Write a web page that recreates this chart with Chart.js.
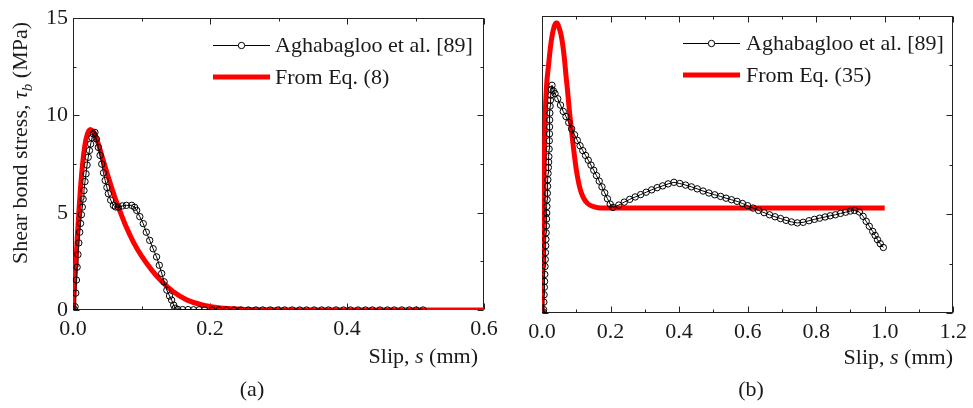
<!DOCTYPE html>
<html><head><meta charset="utf-8">
<script src="https://cdn.jsdelivr.net/npm/chart.js@4.4.0/dist/chart.umd.min.js"></script>
<style>
html,body{margin:0;padding:0;background:#fff;}
#wrap{position:relative;width:973px;height:408px;overflow:hidden;background:#fff;}
#c1{position:absolute;left:0;top:0;}
#c2{position:absolute;left:490px;top:0;}
</style></head><body>
<div id="wrap"><canvas id="c1" width="520" height="408"></canvas><canvas id="c2" width="483" height="408"></canvas></div>
<script>
// ---------- data ----------
const labelExp = 'Aghabagloo et al. [89]';
const labelEqA = 'From Eq. (8)';
const labelEqB = 'From Eq. (35)';
const panelLabels = ['(a)', '(b)'];
const xTitleParts = ['Slip, ', 's', ' (mm)'];
const yTitleParts = ['Shear bond stress, ', 'τ', 'b', ' (MPa)'];

// Panel (a) experimental
const aExpS = [0, 0.0015, 0.003, 0.004, 0.005, 0.006, 0.0072, 0.0085, 0.0098, 0.011, 0.0123, 0.0136, 0.0148, 0.016, 0.0175, 0.019, 0.0205, 0.0222, 0.024, 0.0258, 0.0278, 0.0297, 0.032,
  0.034, 0.037, 0.0395, 0.042, 0.0445, 0.047, 0.0495, 0.0516, 0.055, 0.059, 0.062, 0.066, 0.072, 0.078, 0.0857, 0.09, 0.093, 0.0975, 0.1026, 0.107, 0.112, 0.117, 0.122, 0.126, 0.1295, 0.133, 0.137, 0.141, 0.144, 0.147, 0.149,
  0.153, 0.16, 0.168, 0.176, 0.184,
  0.192, 0.203, 0.213, 0.224, 0.235, 0.245, 0.256, 0.267, 0.277, 0.288, 0.299, 0.309, 0.32, 0.331, 0.341, 0.352, 0.363, 0.373, 0.384, 0.395, 0.405, 0.416, 0.427, 0.437, 0.448, 0.459, 0.469, 0.48, 0.491, 0.501, 0.511];
const aExpTau = [0, 0.05, 0.17, 0.87, 1.54, 2.2, 2.85, 3.45, 4.0, 4.45, 4.9, 5.29, 5.7, 6.14, 6.6, 7.0, 7.45, 7.85, 8.2, 8.53, 8.85, 9.05, 9.13,
  8.8, 8.36, 7.95, 7.5, 7.05, 6.66, 6.3, 5.98, 5.65, 5.38, 5.3, 5.29, 5.35, 5.38, 5.38, 5.28, 5.12, 4.8, 4.44, 4.0, 3.58, 3.15, 2.73, 2.3, 1.88, 1.45, 1.02, 0.72, 0.51, 0.25, 0.09,
  0.03, 0.02, 0.02, 0.01, 0.01,
  0, 0, 0, 0, 0, 0, 0, 0, 0, 0, 0, 0, 0, 0, 0, 0, 0, 0, 0, 0, 0, 0, 0, 0, 0, 0, 0, 0, 0, 0, 0];
// Panel (a) model, Eq. (8)
const aEqS = [0, 0.002, 0.0044, 0.0065, 0.0085, 0.011, 0.014, 0.0175, 0.021, 0.0255, 0.03, 0.033, 0.036, 0.042, 0.047, 0.055, 0.0625, 0.07, 0.078, 0.088, 0.1, 0.115, 0.13, 0.146, 0.166, 0.19, 0.215, 0.245, 0.29, 0.35, 0.45, 0.6];
const aEqTau = [0, 1.2, 2.56, 3.9, 5.0, 6.3, 7.5, 8.5, 9.05, 9.28, 9.15, 8.95, 8.65, 7.95, 7.35, 6.45, 5.65, 4.95, 4.25, 3.5, 2.78, 2.05, 1.45, 0.95, 0.52, 0.25, 0.1, 0.04, 0.01, 0, 0, 0];

// Panel (b) experimental
const bExpS = [0, 0.0035, 0.0046, 0.0054, 0.0061, 0.0068, 0.0075, 0.0081, 0.0088, 0.0095, 0.0101, 0.0108, 0.0114, 0.012, 0.0126, 0.0132, 0.0138, 0.0143, 0.0149, 0.0156, 0.0163, 0.017, 0.0177, 0.0185, 0.0193, 0.02, 0.0207, 0.0213, 0.0218, 0.0221, 0.0224, 0.0229, 0.0236, 0.0246, 0.0258, 0.0272, 0.0292,
  0.033, 0.038, 0.046, 0.054, 0.062, 0.07, 0.078, 0.0865, 0.095, 0.103, 0.111, 0.119, 0.127, 0.135, 0.143, 0.151, 0.159, 0.167, 0.175, 0.183, 0.191, 0.199, 0.207,
  0.224, 0.24, 0.256, 0.272, 0.288, 0.304, 0.32, 0.336, 0.352, 0.368, 0.385,
  0.402, 0.419, 0.436, 0.453, 0.47, 0.487, 0.504, 0.521, 0.537, 0.553, 0.569, 0.585, 0.6, 0.616, 0.632, 0.648, 0.664, 0.68, 0.696, 0.712, 0.728, 0.745,
  0.762, 0.779, 0.795, 0.81, 0.826, 0.841, 0.856, 0.871, 0.886, 0.9, 0.912,
  0.926, 0.937, 0.946, 0.955, 0.965, 0.972, 0.979, 0.987, 0.996];
const bExpTau = [0, 0.05, 0.17, 0.55, 0.92, 1.3, 1.6, 1.95, 2.35, 2.7, 3.05, 3.4, 3.72, 4.05, 4.4, 4.75, 5.05, 5.38, 5.72, 6.05, 6.4, 6.73, 7.05, 7.35, 7.62, 7.9, 8.28, 8.7, 9.05, 9.4, 9.75, 10.1, 10.45, 10.75, 11.0, 11.28, 11.5,
  11.22, 11.08, 10.82, 10.5, 10.18, 9.92, 9.62, 9.3, 9.0, 8.72, 8.45, 8.2, 7.96, 7.72, 7.47, 7.21, 6.94, 6.66, 6.37, 6.07, 5.77, 5.5, 5.33,
  5.45, 5.6, 5.74, 5.86, 5.98, 6.1, 6.22, 6.33, 6.42, 6.52, 6.6,
  6.54, 6.46, 6.37, 6.27, 6.16, 6.06, 5.97, 5.89, 5.8, 5.72, 5.64, 5.53, 5.42, 5.3, 5.18, 5.07, 4.96, 4.86, 4.77, 4.68, 4.6, 4.55,
  4.58, 4.66, 4.73, 4.79, 4.85, 4.91, 4.96, 5.03, 5.09, 5.15, 5.18,
  5.1, 4.88, 4.63, 4.38, 4.12, 3.92, 3.7, 3.5, 3.31];
// Panel (b) model, Eq. (35)
const bEqS = [0, 0.002, 0.004, 0.006, 0.0095, 0.013, 0.019, 0.0245, 0.0295, 0.036, 0.041, 0.044, 0.05, 0.055, 0.06, 0.065, 0.07, 0.0745, 0.08, 0.085, 0.09, 0.095, 0.1, 0.105, 0.11, 0.12, 0.132, 0.145, 0.16, 0.18, 0.213, 0.4, 0.6, 0.8, 1.0];
const bEqTau = [0, 2.5, 4.5, 7.0, 10.0, 11.4, 12.5, 13.4, 14.0, 14.5, 14.65, 14.65, 14.4, 14.1, 13.6, 12.9, 12.0, 11.24, 10.2, 9.4, 8.6, 7.9, 7.25, 6.75, 6.35, 5.85, 5.55, 5.4, 5.33, 5.3, 5.3, 5.3, 5.3, 5.3, 5.3];

// Tick values
const aXMajor = [0, 0.2, 0.4, 0.6];
const aXMinor = [0.1, 0.3, 0.5];
const bXMajor = [0, 0.2, 0.4, 0.6, 0.8, 1.0, 1.2];
const bXMinor = [0.1, 0.3, 0.5, 0.7, 0.9, 1.1];
const yMajor = [0, 5, 10, 15];
const yMinor = [2.5, 7.5, 12.5];

// ---------- drawing ----------
const FONT = "'Liberation Serif', 'Times New Roman', serif";
const FS = 22;
const TXT = '#1a1a1a';
Chart.defaults.font.family = FONT;
Chart.defaults.font.size = FS;
Chart.defaults.color = TXT;

const pts = (xs, ys) => xs.map((x, i) => ({x: x, y: ys[i]}));

function drawParts(ctx, parts, x, y, align) {
  let widths = parts.map(p => { ctx.font = (p[1] ? 'italic ' : '') + FS + 'px ' + FONT; return ctx.measureText(p[0]).width; });
  let total = widths.reduce((a, b) => a + b, 0);
  let cx = align === 'right' ? x - total : (align === 'center' ? x - total / 2 : x);
  parts.forEach((p, i) => { ctx.font = (p[1] ? 'italic ' : '') + FS + 'px ' + FONT; ctx.fillText(p[0], cx, y); cx += widths[i]; });
}

const decor = {
  id: 'decor',
  beforeDatasetsDraw(chart, args, o) {
    const {ctx, chartArea: a, scales: {x, y}} = chart;
    ctx.save();
    ctx.strokeStyle = '#222'; ctx.lineWidth = 1;
    const L = Math.round(a.left) + 0.5, R = Math.round(a.right) - 0.5, T = Math.round(a.top) + 0.5, B = Math.round(a.bottom) - 0.5;
    ctx.strokeRect(L, T, R - L, B - T);
    ctx.beginPath();
    const xt = (v, len) => { const px = Math.round(x.getPixelForValue(v)) + 0.5; ctx.moveTo(px, B); ctx.lineTo(px, B - len); ctx.moveTo(px, T); ctx.lineTo(px, T + len); };
    const yt = (v, len) => { const py = Math.round(y.getPixelForValue(v)) + 0.5; ctx.moveTo(L, py); ctx.lineTo(L + len, py); ctx.moveTo(R, py); ctx.lineTo(R - len, py); };
    o.xMajor.forEach(v => xt(v, 6)); o.xMinor.forEach(v => xt(v, 3));
    yMajor.forEach(v => yt(v, 6)); yMinor.forEach(v => yt(v, 3));
    ctx.stroke();
    ctx.restore();
  },
  afterDraw(chart, args, o) {
    const {ctx} = chart;
    const ds = chart.data.datasets;
    ctx.save();
    // legend
    ctx.textBaseline = 'middle';
    ctx.strokeStyle = '#000'; ctx.lineWidth = 1;
    ctx.beginPath(); ctx.moveTo(o.lx0, o.ly1 + 0.5); ctx.lineTo(o.lx1, o.ly1 + 0.5); ctx.stroke();
    ctx.beginPath(); ctx.arc((o.lx0 + o.lx1) / 2, o.ly1 + 0.5, 3.2, 0, Math.PI * 2); ctx.fillStyle = '#fff'; ctx.fill(); ctx.stroke();
    ctx.strokeStyle = '#ff0000'; ctx.lineWidth = 5; ctx.lineCap = 'butt';
    ctx.beginPath(); ctx.moveTo(o.lx0, o.ly2); ctx.lineTo(o.lx1, o.ly2); ctx.stroke();
    ctx.fillStyle = TXT; ctx.font = FS + 'px ' + FONT; ctx.textAlign = 'left';
    ctx.fillText(ds[0].label, o.tx, o.ly1 + 1);
    ctx.fillText(ds[1].label, o.tx, o.ly2 + 1);
    // x title
    ctx.textBaseline = 'alphabetic';
    drawParts(ctx, [[xTitleParts[0], false], [xTitleParts[1], true], [xTitleParts[2], false]], o.xtX, o.xtY, 'right');
    // panel label
    ctx.font = FS + 'px ' + FONT; ctx.textAlign = 'center';
    ctx.fillText(o.panel, o.pX, o.pY);
    ctx.textAlign = 'left';
    // y title
    if (o.yTitle) {
      ctx.translate(o.ytX, o.ytY);
      ctx.rotate(-Math.PI / 2);
      ctx.textBaseline = 'middle';
      const f0 = FS + 'px ' + FONT, fi = 'italic ' + FS + 'px ' + FONT, fs = 'italic 15px ' + FONT;
      ctx.font = f0; const w0 = ctx.measureText(yTitleParts[0]).width;
      ctx.font = fi; const w1 = ctx.measureText(yTitleParts[1]).width;
      ctx.font = fs; const w2 = ctx.measureText(yTitleParts[2]).width;
      ctx.font = f0; const w3 = ctx.measureText(yTitleParts[3]).width;
      let cx = -(w0 + w1 + w2 + w3) / 2;
      ctx.font = f0; ctx.fillText(yTitleParts[0], cx, 0); cx += w0;
      ctx.font = fi; ctx.fillText(yTitleParts[1], cx, 0); cx += w1;
      ctx.font = fs; ctx.fillText(yTitleParts[2], cx, 7); cx += w2;
      ctx.font = f0; ctx.fillText(yTitleParts[3], cx, 0);
    }
    ctx.restore();
  }
};

function makePanel(canvas, cfg) {
  return new Chart(canvas, {
    type: 'line',
    data: {
      datasets: [
        {label: labelExp, data: pts(cfg.expS, cfg.expTau), borderColor: '#000', borderWidth: 1, pointRadius: 3.2, pointBorderWidth: 1,
         pointBorderColor: '#000', pointBackgroundColor: 'rgba(0,0,0,0)', tension: 0, fill: false},
        {label: cfg.eqLabel, data: pts(cfg.eqS, cfg.eqTau), borderColor: '#ff0000', borderWidth: 5, pointRadius: 0,
         cubicInterpolationMode: 'monotone', fill: false}
      ]
    },
    options: {
      responsive: false, animation: false, devicePixelRatio: 1,
      layout: {padding: cfg.padding},
      plugins: {legend: {display: false}, tooltip: {enabled: false}, decor: cfg.decor},
      scales: {
        x: {type: 'linear', min: 0, max: cfg.xMax, grid: {display: false, drawTicks: false}, border: {display: false},
            ticks: {stepSize: 0.2, padding: 6, color: TXT, callback: v => v.toFixed(1), maxRotation: 0, autoSkip: false},
            afterFit: s => { s.height = cfg.xH; }},
        y: {type: 'linear', min: 0, max: 15, grid: {display: false, drawTicks: false}, border: {display: false},
            ticks: {display: cfg.yLabels, stepSize: 5, padding: 5, color: TXT},
            afterFit: s => { s.width = cfg.yW; }}
      }
    },
    plugins: [decor]
  });
}

makePanel(document.getElementById('c1'), {
  expS: aExpS, expTau: aExpTau, eqS: aEqS, eqTau: aEqTau, eqLabel: labelEqA, xMax: 0.6,
  padding: {left: 0, top: 17, right: 36, bottom: 0}, xH: 98, yW: 73, yLabels: true,
  decor: {xMajor: aXMajor, xMinor: aXMinor, lx0: 213, lx1: 270, ly1: 45, ly2: 77, tx: 275,
          xtX: 478, xtY: 363, panel: panelLabels[0], pX: 252, pY: 396, yTitle: true, ytX: 21, ytY: 143}
});
makePanel(document.getElementById('c2'), {
  expS: bExpS, expTau: bExpTau, eqS: bEqS, eqTau: bEqTau, eqLabel: labelEqB, xMax: 1.2,
  padding: {left: 0, top: 16, right: 13, bottom: 0}, xH: 95, yW: 52, yLabels: false,
  decor: {xMajor: bXMajor, xMinor: bXMinor, lx0: 193, lx1: 250, ly1: 43, ly2: 75, tx: 256,
          xtX: 463, xtY: 364, panel: panelLabels[1], pX: 261, pY: 396, yTitle: false}
});
</script>
</body></html>
